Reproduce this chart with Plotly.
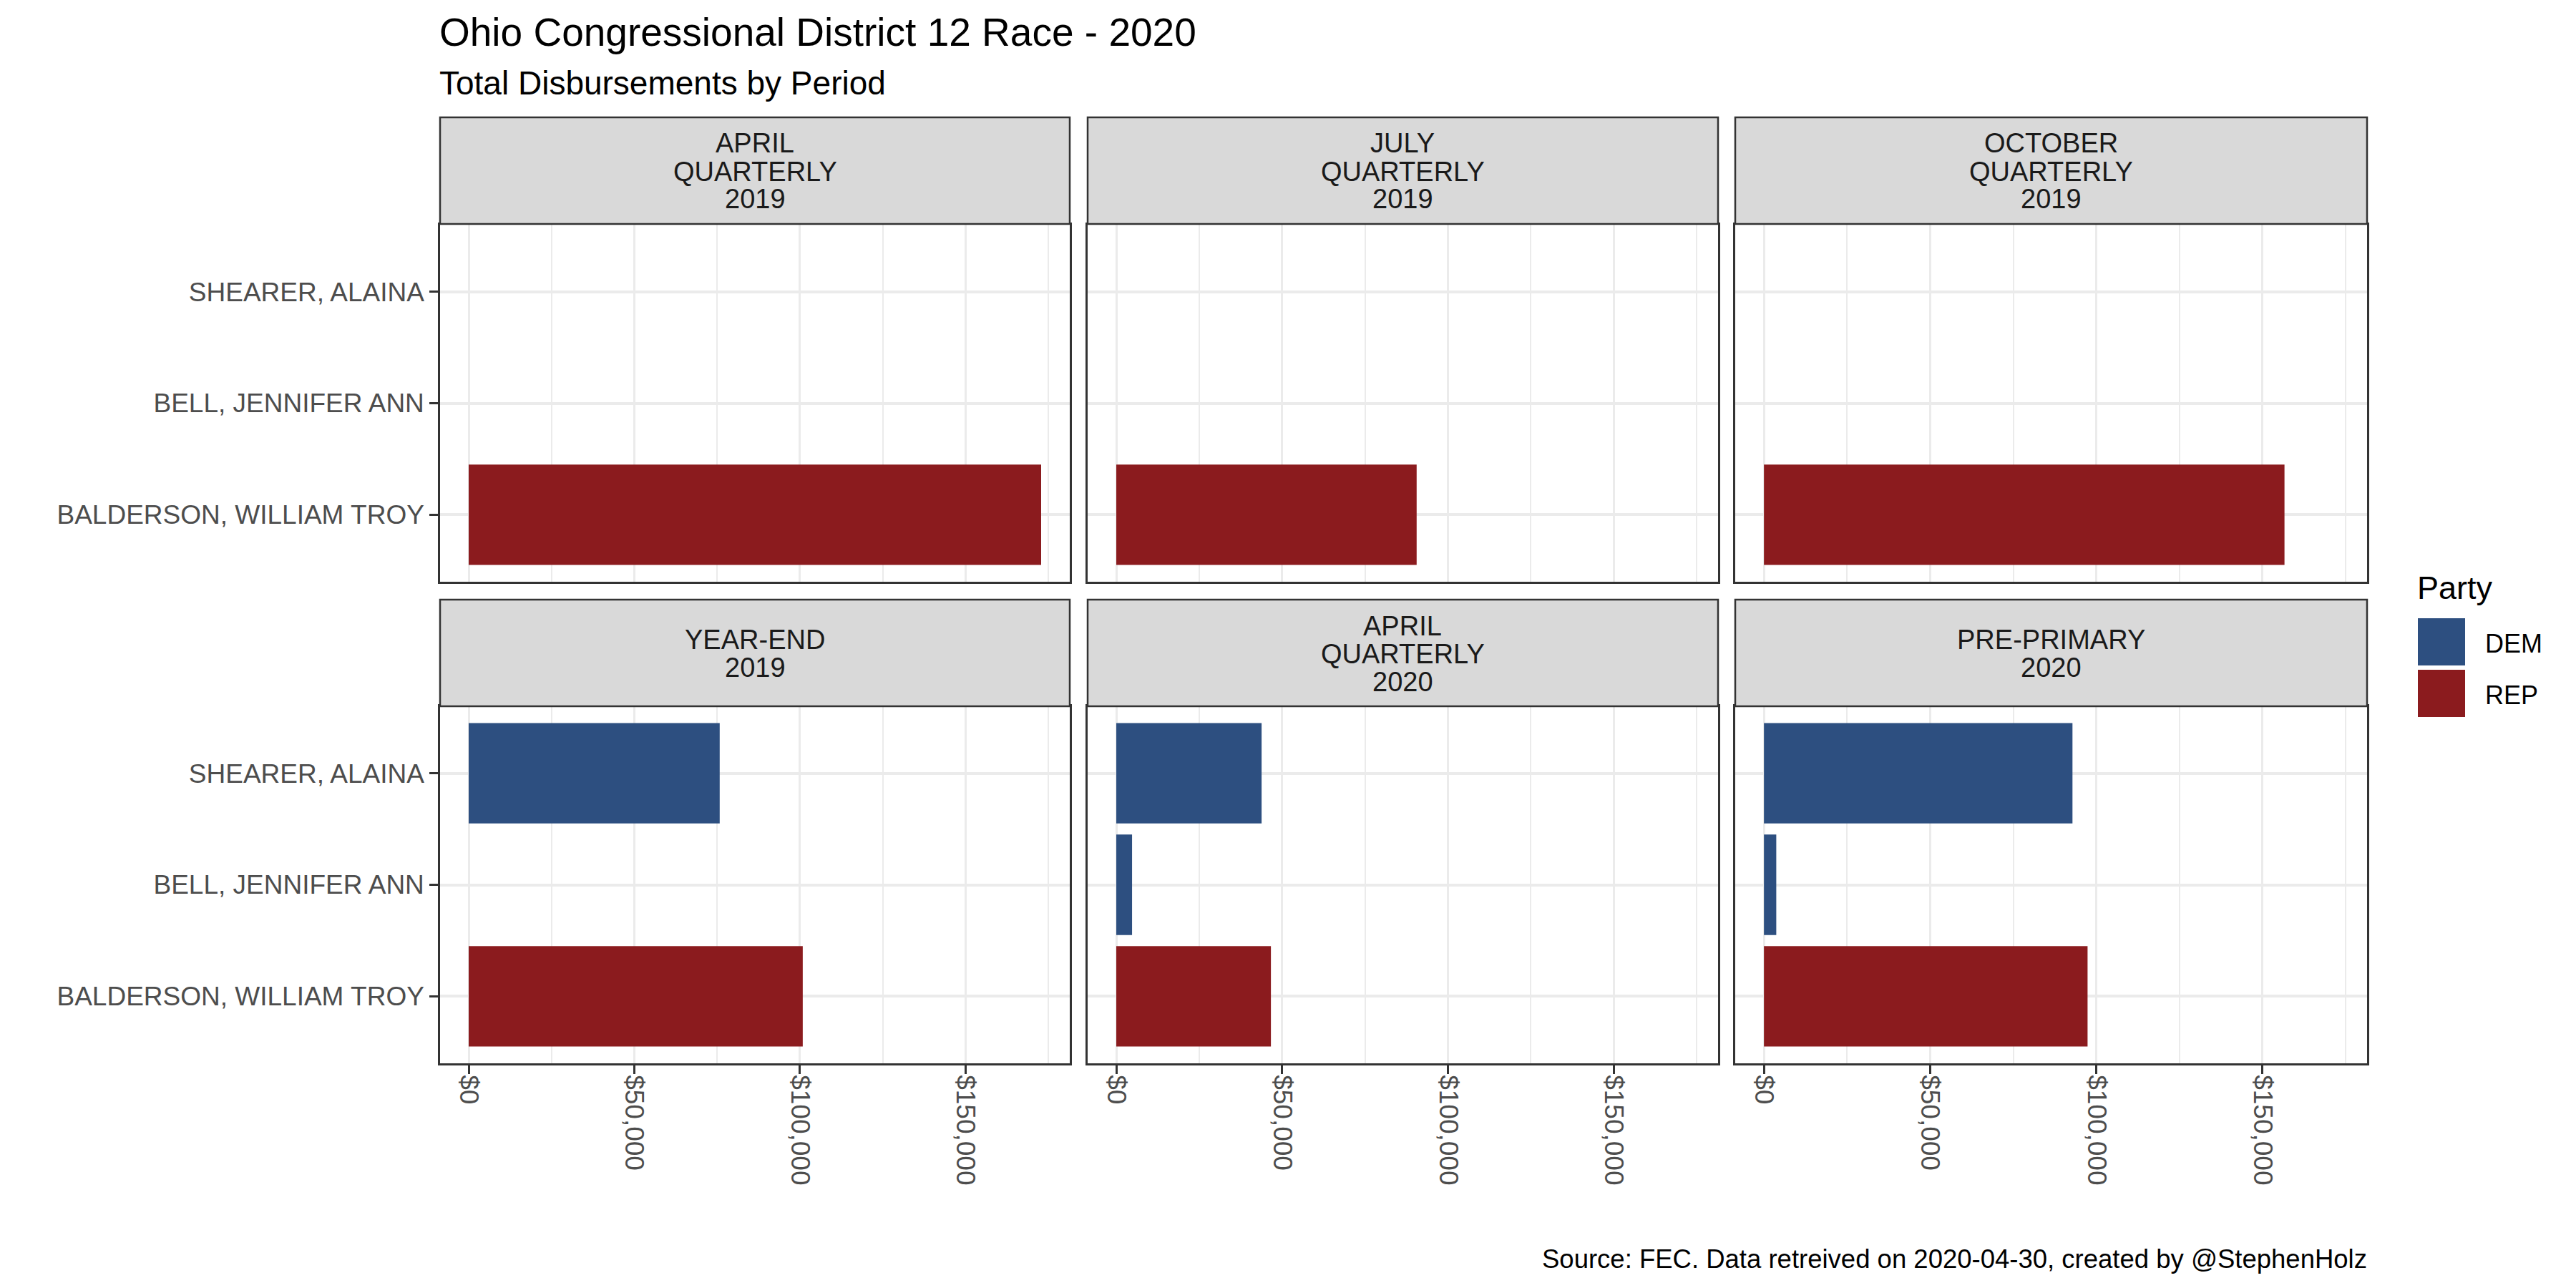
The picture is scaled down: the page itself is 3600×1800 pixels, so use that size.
import plotly.graph_objects as go

# ---------------- data ----------------
strip_labels = ["APRIL\nQUARTERLY\n2019", "JULY\nQUARTERLY\n2019", "OCTOBER\nQUARTERLY\n2019",
                "YEAR-END\n2019", "APRIL\nQUARTERLY\n2020", "PRE-PRIMARY\n2020"]
candidates = ["BALDERSON, WILLIAM TROY", "BELL, JENNIFER ANN", "SHEARER, ALAINA"]
candidate_party = ["REP", "DEM", "DEM"]
balderson = [172800, 90560, 156600, 100840, 46620, 97360]
bell = [None, None, None, None, 4750, 3710]
shearer = [None, None, None, 75770, 43810, 92820]
parties = ["DEM", "REP"]
party_colors = {"DEM": "#2D4F80", "REP": "#8B1B1E"}
tick_vals = [0, 50000, 100000, 150000]
tick_text = ["$0", "$50,000", "$100,000", "$150,000"]
minor_vals = [25000, 75000, 125000, 175000]
title = "Ohio Congressional District 12 Race - 2020"
subtitle = "Total Disbursements by Period"
caption = "Source: FEC. Data retreived on 2020-04-30, created by @StephenHolz"
legend_title = "Party"

W, H = 3600, 1800
OFF = 8  # page body margin
FONT = "Liberation Sans, Arial, sans-serif"
def fx(p): return (p - OFF) / W
def fy(p): return 1 - (p - OFF) / H

col_x = [(615, 1495), (1520, 2401), (2425, 3308)]
row_panel = [(314, 813), (987, 1486)]
row_strip = [(164, 313), (838, 987)]

series = [balderson, bell, shearer]
vmax = max(v for s in series for v in s if v is not None)
x_range = [-0.05 * vmax, 1.05 * vmax]

fig = go.Figure()
layout = dict(width=W, height=H, margin=dict(l=0, r=0, t=0, b=0),
              paper_bgcolor="white", plot_bgcolor="white",
              showlegend=False, barmode="overlay")
shapes, annots = [], []
GRID = "#EBEBEB"
DARK = "#333333"

for i, lab in enumerate(strip_labels):
    r, c = divmod(i, 3)
    k = "" if i == 0 else str(i + 1)
    vals = [s[i] for s in series]
    xs, ys, cols = [], [], []
    for cand, p, v in zip(candidates, candidate_party, vals):
        if v is not None:
            xs.append(v); ys.append(cand); cols.append(party_colors[p])
    fig.add_trace(go.Bar(x=xs, y=ys, orientation="h", width=0.9,
                         marker=dict(color=cols, line=dict(width=0)),
                         xaxis="x" + k, yaxis="y" + k, hoverinfo="x+y"))
    x0, x1 = col_x[c]
    y0, y1 = row_panel[r]
    layout["xaxis" + k] = dict(
        domain=[fx(x0), fx(x1)], anchor="y" + k, range=x_range,
        tickvals=tick_vals, ticktext=tick_text, tickangle=90,
        showticklabels=(r == 1), ticks="outside" if r == 1 else "",
        ticklen=12, tickwidth=2.5, tickcolor=DARK, ticklabelstandoff=-6,
        tickfont=dict(family=FONT, size=37, color="#4D4D4D"),
        showgrid=True, gridcolor=GRID, gridwidth=3, zeroline=False,
        minor=dict(tickvals=minor_vals, showgrid=True, gridcolor=GRID, gridwidth=1.5, ticks=""),
        showline=True, mirror=True, linecolor=DARK, linewidth=2.5, fixedrange=True)
    layout["yaxis" + k] = dict(
        domain=[fy(y1), fy(y0)], anchor="x" + k, type="category",
        categoryorder="array", categoryarray=candidates, range=[-0.6, 2.6],
        tickvals=candidates, showticklabels=(c == 0), ticks="outside" if c == 0 else "",
        ticklen=12, tickwidth=2.5, tickcolor=DARK,
        tickfont=dict(family=FONT, size=37, color="#4D4D4D"),
        showgrid=True, gridcolor=GRID, gridwidth=3.5, zeroline=False,
        showline=True, mirror=True, linecolor=DARK, linewidth=2.5, fixedrange=True)
    # strip
    s0, s1 = row_strip[r]
    shapes.append(dict(type="rect", xref="paper", yref="paper",
                       x0=fx(x0), x1=fx(x1), y0=fy(s1), y1=fy(s0),
                       fillcolor="#D9D9D9", line=dict(color=DARK, width=2.5), layer="above"))
    lines = lab.split("\n")
    cy = (s0 + s1) / 2
    n = len(lines)
    for j, t in enumerate(lines):
        yy = cy + (j - (n - 1) / 2) * 39
        annots.append(dict(text=t, xref="paper", yref="paper", x=fx((x0 + x1) / 2), y=fy(yy + 1),
                           xanchor="center", yanchor="middle", showarrow=False,
                           font=dict(family=FONT, size=38, color="#1A1A1A")))

# titles
annots.append(dict(text=title, xref="paper", yref="paper", x=fx(612), y=fy(45),
                   xanchor="left", yanchor="middle", showarrow=False,
                   font=dict(family=FONT, size=55, color="black")))
annots.append(dict(text=subtitle, xref="paper", yref="paper", x=fx(612), y=fy(116),
                   xanchor="left", yanchor="middle", showarrow=False,
                   font=dict(family=FONT, size=46, color="black")))
annots.append(dict(text=caption, xref="paper", yref="paper", x=fx(3310), y=fy(1759),
                   xanchor="right", yanchor="middle", showarrow=False,
                   font=dict(family=FONT, size=36.5, color="black")))

# legend (drawn manually to match key size)
annots.append(dict(text=legend_title, xref="paper", yref="paper", x=fx(3376), y=fy(821),
                   xanchor="left", yanchor="middle", showarrow=False,
                   font=dict(family=FONT, size=45, color="black")))
for j, p in enumerate(parties):
    top = 864 + j * 72
    shapes.append(dict(type="rect", xref="paper", yref="paper",
                       x0=fx(3379), x1=fx(3445), y0=fy(top + 66), y1=fy(top),
                       fillcolor=party_colors[p], line=dict(width=0)))
    annots.append(dict(text=p, xref="paper", yref="paper", x=fx(3471), y=fy(top + 35),
                       xanchor="left", yanchor="middle", showarrow=False,
                       font=dict(family=FONT, size=36, color="black")))

layout["shapes"] = shapes
layout["annotations"] = annots
fig.update_layout(**layout)
fig.write_html("out.html")
